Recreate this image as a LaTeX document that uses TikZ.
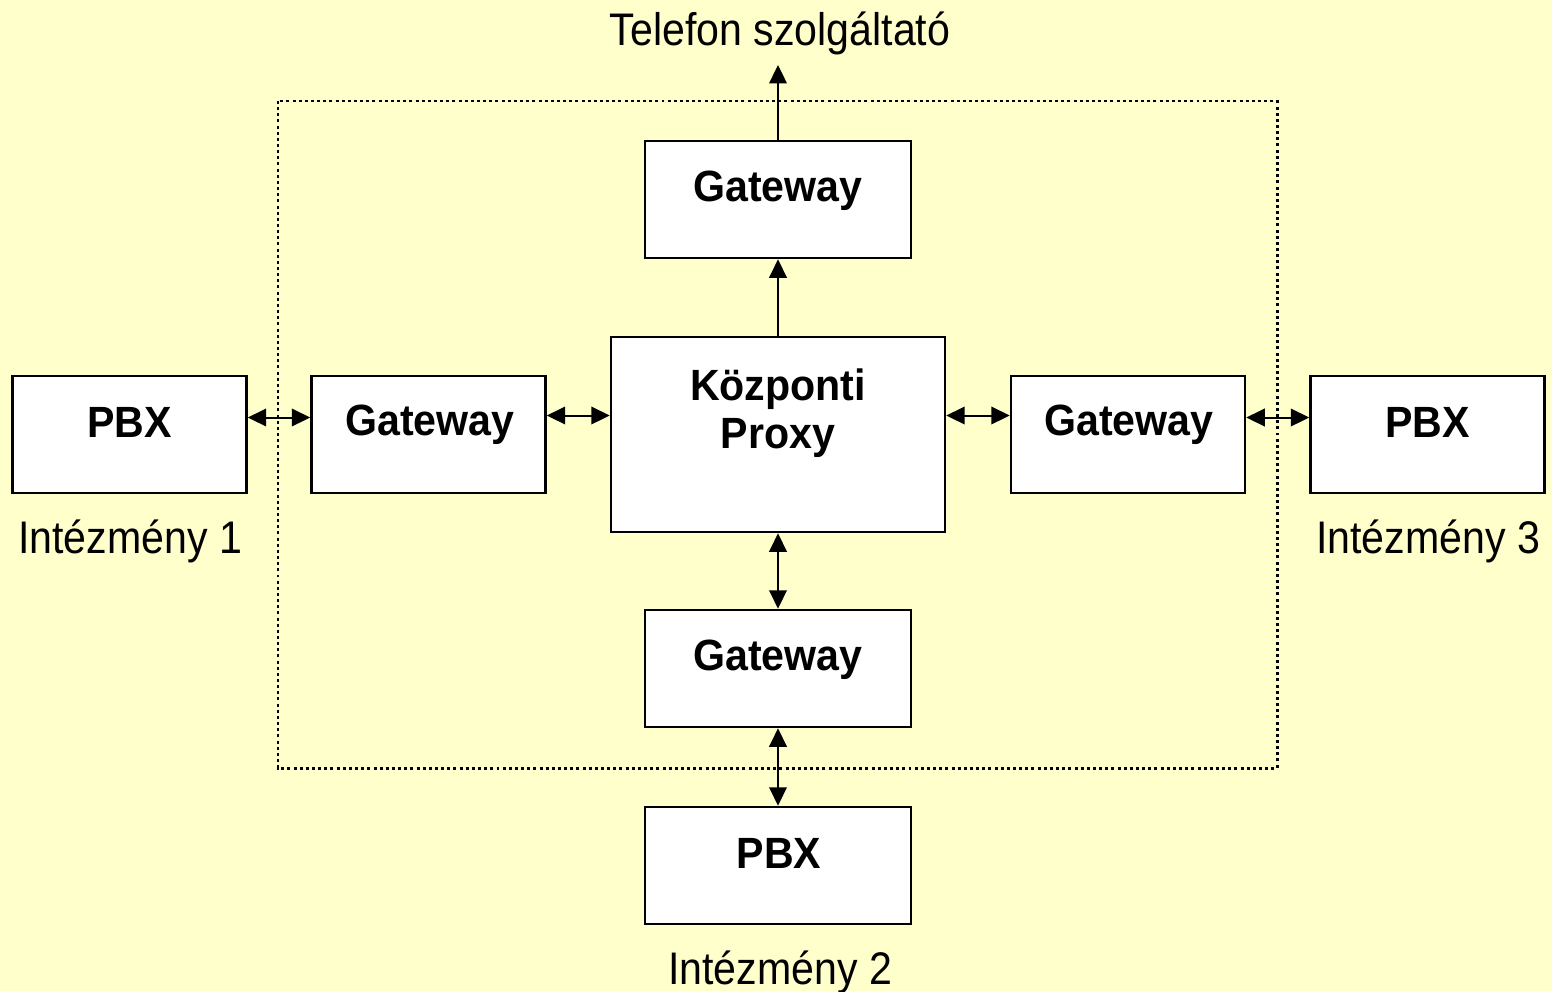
\documentclass[tikz,border=0pt]{standalone}
\usepackage{fontspec}
\setmainfont{Liberation Sans}
\newfontfamily\boxfont[FakeStretch=0.94]{Liberation Sans Bold}
\newfontfamily\lblfont[FakeStretch=0.9]{Liberation Sans}
\usetikzlibrary{arrows.meta}
\definecolor{bgyellow}{HTML}{FFFFCC}
\begin{document}
\begin{tikzpicture}[x=0.02cm,y=-0.02cm,
  box/.style={draw=black, fill=white, line width=1.5pt, minimum width=4.68cm, minimum height=2.34cm, inner sep=0pt},
  wbox/.style={box, minimum width=5.32cm},
  btxt/.style={font=\boxfont\fontsize{24.9pt}{27.5pt}\selectfont, inner sep=0pt, anchor=base},
  ltxt/.style={font=\lblfont\fontsize{26pt}{28pt}\selectfont, inner sep=0pt, anchor=base},
  conn/.style={line width=1.15pt, -{Triangle[length=10.5pt,width=10pt]}},
  dconn/.style={line width=1.15pt, {Triangle[length=10.5pt,width=10pt]}-{Triangle[length=10.5pt,width=10pt]}},
  frame/.style={line width=1.7pt, dash pattern=on 1.7pt off 1.8pt}
]
\fill[bgyellow] (0,0) rectangle (1552,991);
\useasboundingbox (0,0) rectangle (1552,991);

\draw[frame] (278,101) rectangle (1277,768);

\node[wbox] (gwtop) at (778,199.5) {};
\node[btxt] (gwtoptxt) at (778,201) {Gateway};

\node[draw=black, fill=white, line width=1.5pt, minimum width=6.68cm, minimum height=3.9cm, inner sep=0pt] (proxy) at (778,434.5) {};
\node[btxt, align=center, anchor=center] (proxytxt) at (778,413) {Központi\\Proxy};

\node[box] (gwleft) at (428.5,434.5) {};
\node[btxt] (gwlefttxt) at (430,435) {Gateway};

\node[box] (gwright) at (1128,434.5) {};
\node[btxt] (gwrighttxt) at (1129,435) {Gateway};

\node[box] (pbxleft) at (129.5,434.5) {};
\node[btxt] (pbxlefttxt) at (129.5,437) {PBX};

\node[box] (pbxright) at (1427.5,434.5) {};
\node[btxt] (pbxrighttxt) at (1427.5,437) {PBX};

\node[wbox] (gwbot) at (778,668.5) {};
\node[btxt] (gwbottxt) at (778,670) {Gateway};

\node[wbox] (pbxbot) at (778,865.5) {};
\node[btxt] (pbxbottxt) at (779,868) {PBX};

\node[ltxt] (telefon) at (780,45) {Telefon szolgáltató};
\node[ltxt] (int1) at (130,553) {Intézmény 1};
\node[ltxt] (int3) at (1428,553) {Intézmény 3};
\node[ltxt] (int2) at (780,984) {Intézmény 2};

\coordinate (telarrow) at (778,65);
\draw[conn] (gwtop.north) -- (telarrow);
\draw[conn] (proxy.north -| gwtop.south) -- (gwtop.south);

\draw[dconn] ([yshift=0.34cm]pbxleft.east) -- ([yshift=0.34cm]gwleft.west);
\draw[dconn] ([yshift=0.38cm]gwleft.east) -- ([yshift=0.38cm]gwleft.east -| proxy.west);
\draw[dconn] ([yshift=0.38cm]gwright.west -| proxy.east) -- ([yshift=0.38cm]gwright.west);
\draw[dconn] ([yshift=0.34cm]gwright.east) -- ([yshift=0.34cm]pbxright.west);
\draw[dconn] (proxy.south) -- (gwbot.north);
\draw[dconn] (gwbot.south) -- (pbxbot.north);
\end{tikzpicture}
\end{document}
